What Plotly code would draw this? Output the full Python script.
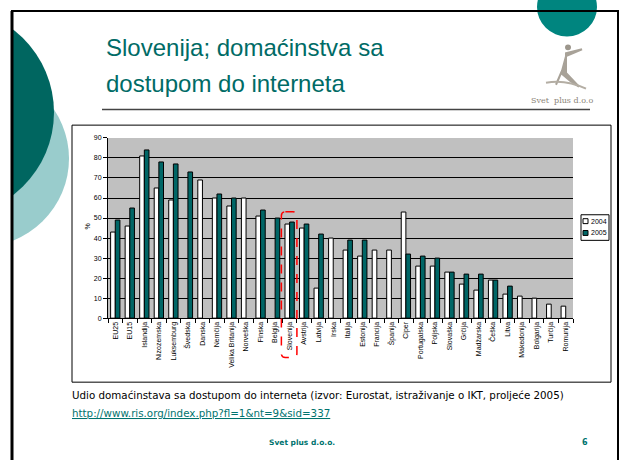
import plotly.graph_objects as go

W, H = 624, 461

categories = ["EU25", "EU15", "Islandija", "Nizozemska", "Luksemburg", "Švedska", "Danska",
              "Nemčija", "Velika Britanija", "Norveška", "Finska", "Belgija", "Slovenija",
              "Avstrija", "Latvija", "Irska", "Italija", "Estonija", "Francija", "Španija",
              "Ciper", "Portugalska", "Poljska", "Slovaška", "Grčija", "Madžarska", "Češka",
              "Litva", "Makedonija", "Bolgarija", "Turčija", "Romunija"]
values_2004 = [43, 46, 81, 65, 59, None, 69, 60, 56, 60, 51, None, 47, 45, 15, 40, 34, 31,
               34, 34, 53, 26, 26, 23, 17, 14, 19, 12, 11, 10, 7, 6]
values_2005 = [49, 55, 84, 78, 77, 73, None, 62, 60, None, 54, 50, 48, 47, 42, None, 39, 39,
               None, None, 32, 31, 30, 23, 22, 22, 19, 16, None, None, None, None]
series_names = ["2004", "2005"]
yticks = [0, 10, 20, 30, 40, 50, 60, 70, 80, 90]
highlight = "Slovenija"

TEAL = "#006B66"
BAR_TEAL = "#006666"
FONT = "Liberation Sans, Arial, sans-serif"
VFONT = "DejaVu Sans, Verdana, sans-serif"


def px(x):
    return x / W


def py(y):
    return 1 - y / H


PL, PR, PT, PB = 108, 573, 136, 319

fig = go.Figure()
fig.add_trace(go.Bar(x=categories, y=values_2004, name=series_names[0],
                     marker=dict(color="white", line=dict(color="black", width=1))))
fig.add_trace(go.Bar(x=categories, y=values_2005, name=series_names[1],
                     marker=dict(color=BAR_TEAL, line=dict(color="black", width=1))))

shapes = []
# decorative circles
shapes.append(dict(type="circle", xref="paper", yref="paper", layer="below",
                   x0=px(-21 - 90), x1=px(-21 + 90), y0=py(157 + 90), y1=py(157 - 90),
                   fillcolor="#99CCCC", line=dict(width=0)))
shapes.append(dict(type="circle", xref="paper", yref="paper", layer="below",
                   x0=px(-53 - 107), x1=px(-53 + 107), y0=py(110 + 107), y1=py(110 - 107),
                   fillcolor="#006660", line=dict(width=0)))
# clip left of slide border
shapes.append(dict(type="rect", xref="paper", yref="paper", layer="below",
                   x0=px(-5), x1=px(12), y0=py(H + 5), y1=py(-5),
                   fillcolor="white", line=dict(width=0)))
# slide border
shapes.append(dict(type="line", xref="paper", yref="paper", x0=px(12), x1=px(12),
                   y0=py(7), y1=py(H + 2), line=dict(color="black", width=3)))
shapes.append(dict(type="line", xref="paper", yref="paper", x0=px(11), x1=px(619),
                   y0=py(7), y1=py(7), line=dict(color="black", width=2)))
shapes.append(dict(type="line", xref="paper", yref="paper", x0=px(618), x1=px(618),
                   y0=py(7), y1=py(H + 2), line=dict(color="black", width=2)))
# logo circle
shapes.append(dict(type="circle", xref="paper", yref="paper", layer="below",
                   x0=px(537), x1=px(597), y0=py(33), y1=py(-27),
                   fillcolor="#00857F", line=dict(width=0)))
# logo figure (stylised)
shapes.append(dict(type="circle", xref="paper", yref="paper",
                   x0=px(565), x1=px(571), y0=py(47), y1=py(41),
                   fillcolor="#9C968C", line=dict(width=0)))
figpath = (f"M {px(566)},{py(50)} L {px(582)},{py(46)} L {px(566)},{py(53)} "
           f"L {px(562)},{py(68)} L {px(556)},{py(82)} L {px(561)},{py(70)} "
           f"L {px(570)},{py(78)} L {px(579)},{py(84)} L {px(566)},{py(70)} Z")
shapes.append(dict(type="path", xref="paper", yref="paper", path=figpath,
                   fillcolor="#A8A298", line=dict(color="#A8A298", width=2)))
shapes.append(dict(type="path", xref="paper", yref="paper",
                   path=f"M {px(546)},{py(80)} Q {px(565)},{py(76)} {px(586)},{py(86)}",
                   line=dict(color="#B4AEA4", width=2)))
# title rule
shapes.append(dict(type="line", xref="paper", yref="paper", x0=px(102), x1=px(590),
                   y0=py(107), y1=py(107), line=dict(color="#444444", width=1.5)))
# chart frame
shapes.append(dict(type="rect", xref="paper", yref="paper", layer="below",
                   x0=px(72), x1=px(611), y0=py(384), y1=py(123),
                   fillcolor="white", line=dict(color="black", width=1)))
# plot area background
shapes.append(dict(type="rect", xref="paper", yref="paper", layer="below",
                   x0=px(PL), x1=px(PR), y0=py(PB), y1=py(PT),
                   fillcolor="#C0C0C0", line=dict(width=0)))

# highlight box around Slovenija
idx = categories.index(highlight)
cw = (PR - PL) / len(categories)
bx0 = PL + idx * cw - 1
bx1 = PL + (idx + 1) * cw
by0, by1 = 211, 359
r = 4
hp = (f"M {px(bx0 + r)},{py(by0)} L {px(bx1 - r)},{py(by0)} Q {px(bx1)},{py(by0)} {px(bx1)},{py(by0 + r)} "
      f"L {px(bx1)},{py(by1 - r)} Q {px(bx1)},{py(by1)} {px(bx1 - r)},{py(by1)} "
      f"L {px(bx0 + r)},{py(by1)} Q {px(bx0)},{py(by1)} {px(bx0)},{py(by1 - r)} "
      f"L {px(bx0)},{py(by0 + r)} Q {px(bx0)},{py(by0)} {px(bx0 + r)},{py(by0)} Z")
shapes.append(dict(type="path", xref="paper", yref="paper", path=hp,
                   line=dict(color="red", width=1.5, dash="dash")))

# manual legend
shapes.append(dict(type="rect", xref="paper", yref="paper",
                   x0=px(581), x1=px(609), y0=py(240), y1=py(214),
                   fillcolor="white", line=dict(color="black", width=1)))
shapes.append(dict(type="rect", xref="paper", yref="paper",
                   x0=px(583), x1=px(588), y0=py(223), y1=py(218),
                   fillcolor="white", line=dict(color="black", width=1)))
shapes.append(dict(type="rect", xref="paper", yref="paper",
                   x0=px(583), x1=px(588), y0=py(235), y1=py(230),
                   fillcolor=BAR_TEAL, line=dict(color="black", width=1)))

annotations = []
annotations.append(dict(xref="paper", yref="paper", x=px(589), y=py(220.5), xanchor="left",
                        yanchor="middle", text=series_names[0], showarrow=False,
                        font=dict(family=FONT, size=7, color="black")))
annotations.append(dict(xref="paper", yref="paper", x=px(589), y=py(232.5), xanchor="left",
                        yanchor="middle", text=series_names[1], showarrow=False,
                        font=dict(family=FONT, size=7, color="black")))
# title
annotations.append(dict(xref="paper", yref="paper", x=px(104), y=py(44), xanchor="left",
                        yanchor="middle", text="Slovenija; domaćinstva sa", showarrow=False,
                        font=dict(family=FONT, size=24, color=TEAL)))
annotations.append(dict(xref="paper", yref="paper", x=px(104), y=py(81), xanchor="left",
                        yanchor="middle", text="dostupom do interneta", showarrow=False,
                        font=dict(family=FONT, size=24, color=TEAL)))
# logo text
annotations.append(dict(xref="paper", yref="paper", x=px(562), y=py(98), xanchor="center",
                        yanchor="middle", text="Svet  plus d.o.o", showarrow=False,
                        font=dict(family="DejaVu Serif, serif", size=8, color="#8A8478")))
# y axis title
annotations.append(dict(xref="paper", yref="paper", x=px(88), y=py(226), xanchor="center",
                        yanchor="middle", text="%", textangle=-90, showarrow=False,
                        font=dict(family=FONT, size=7, color="black")))
# caption and link
annotations.append(dict(xref="paper", yref="paper", x=px(70), y=py(397), xanchor="left",
                        yanchor="middle",
                        text="Udio domaćinstava sa dostupom do interneta (izvor: Eurostat, istraživanje o IKT, proljeće 2005)",
                        showarrow=False, font=dict(family=VFONT, size=10.3, color="black")))
annotations.append(dict(xref="paper", yref="paper", x=px(70), y=py(415), xanchor="left",
                        yanchor="middle",
                        text="<u>http://www.ris.org/index.php?fl=1&amp;nt=9&amp;sid=337</u>",
                        showarrow=False, font=dict(family=VFONT, size=10.3, color="#00736E")))
# footer
annotations.append(dict(xref="paper", yref="paper", x=px(302), y=py(445), xanchor="center",
                        yanchor="middle", text="<b>Svet plus d.o.o.</b>", showarrow=False,
                        font=dict(family=VFONT, size=7.5, color="#00736E")))
annotations.append(dict(xref="paper", yref="paper", x=px(585), y=py(445), xanchor="center",
                        yanchor="middle", text="<b>6</b>", showarrow=False,
                        font=dict(family=VFONT, size=8, color="#00736E")))

fig.update_layout(
    width=W, height=H, margin=dict(l=0, r=0, t=0, b=0),
    paper_bgcolor="white", plot_bgcolor="rgba(0,0,0,0)",
    barmode="group", bargap=0.36, bargroupgap=0.0,
    showlegend=False,
    shapes=shapes, annotations=annotations,
    font=dict(family=FONT, size=7, color="black"),
    xaxis=dict(domain=[px(PL), px(PR)], type="category", showline=True, linecolor="black",
               linewidth=1, ticks="outside", tickson="boundaries", ticklen=4, tickcolor="black",
               tickangle=-90, tickfont=dict(family=FONT, size=7, color="black"),
               showgrid=False, fixedrange=True),
    yaxis=dict(domain=[py(PB), py(PT)], range=[0, 90], tickvals=yticks, showline=True,
               linecolor="black", linewidth=1, ticks="outside", ticklen=4, tickcolor="black",
               showgrid=True, gridcolor="black", gridwidth=1, zeroline=False,
               tickfont=dict(family=FONT, size=7, color="black"), fixedrange=True),
)

fig.write_html("out.html", config={"displayModeBar": False},
               post_script="document.body.style.margin='0';document.body.style.overflow='hidden';")
